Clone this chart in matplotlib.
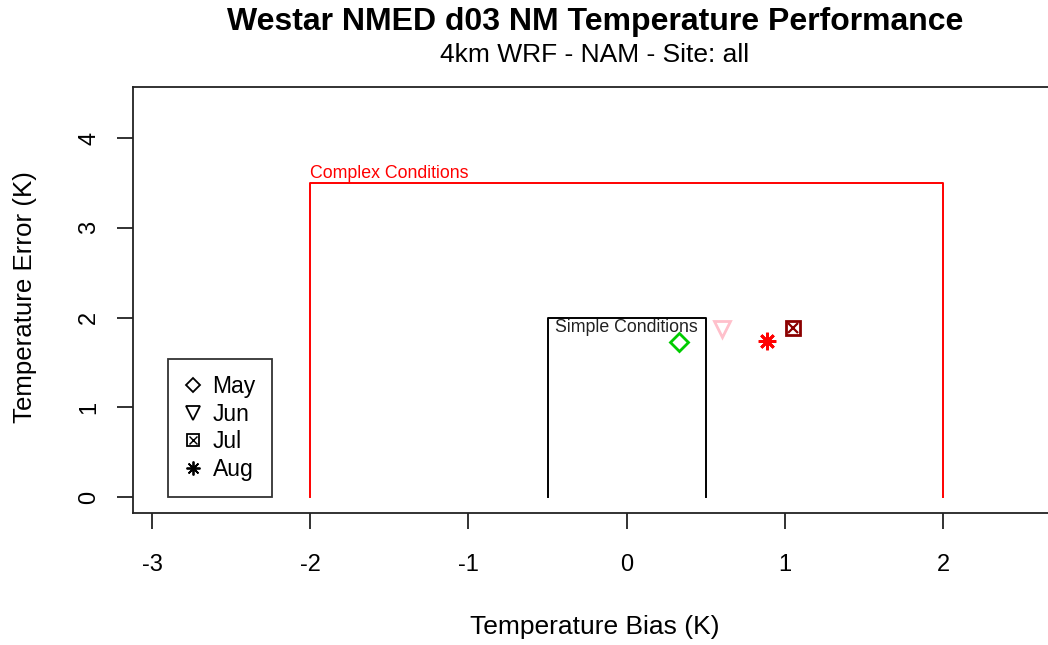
import matplotlib
matplotlib.use("Agg")
import matplotlib.pyplot as plt
from matplotlib.lines import Line2D

plt.rcParams['font.family'] = ['Liberation Sans', 'DejaVu Sans']

# monthly mean bias / error
MONTHS = ["May", "Jun", "Jul", "Aug"]
BIAS = [0.33, 0.60, 1.05, 0.89]
ERROR = [1.73, 1.87, 1.88, 1.74]
COLORS = ["#00CC00", "#FFC0CB", "#8B0000", "#FF0000"]

# benchmark boxes: (bias half-width, error limit)
SIMPLE = (0.5, 2.0)
COMPLEX = (2.0, 3.5)

XTICKS = [-3, -2, -1, 0, 1, 2]
YTICKS = [0, 1, 2, 3, 4]

W, H = 1048, 645
fig = plt.figure(figsize=(W / 100, H / 100), dpi=100)
ax = fig.add_axes([133 / W, (H - 513) / H, 924 / W, 426 / H])

ax.set_xlim(-3.12, 2.72)
ax.set_ylim(-0.178, 4.568)

# benchmark boxes, open at the bottom
for (hw, top), col in [(SIMPLE, "black"), (COMPLEX, "red")]:
    ax.plot([-hw, -hw, hw, hw], [0, top, top, 0], color=col, lw=1.4)
ax.text(0, SIMPLE[1] - 0.02, "Simple Conditions", ha="center", va="top",
        fontsize=12.8, color="#222222")
ax.text(-COMPLEX[0], COMPLEX[1] + 0.01, "Complex Conditions", ha="left",
        va="bottom", fontsize=12.8, color="red")


def month_marker(i, color, size, lw):
    if i == 0:
        return [dict(marker="D", markerfacecolor="none", markeredgecolor=color,
                     markersize=size * 0.75, markeredgewidth=lw)]
    if i == 1:
        return [dict(marker="v", markerfacecolor="none", markeredgecolor=color,
                     markersize=size, markeredgewidth=lw)]
    if i == 2:
        return [dict(marker="s", markerfacecolor="none", markeredgecolor=color,
                     markersize=size * 0.85, markeredgewidth=lw),
                dict(marker="x", markeredgecolor=color,
                     markersize=size * 0.6, markeredgewidth=lw * 0.8)]
    return [dict(marker=(8, 2, 0), markeredgecolor=color,
                 markersize=size * 1.05, markeredgewidth=lw)]


for i, (bx, ey, c) in enumerate(zip(BIAS, ERROR, COLORS)):
    for kw in month_marker(i, c, 12, 2.0):
        ax.plot([bx], [ey], linestyle="none", **kw)

handles = []
for i in range(len(MONTHS)):
    parts = [Line2D([], [], linestyle="none", **kw)
             for kw in month_marker(i, "black", 9.5, 1.3)]
    handles.append(tuple(parts) if len(parts) > 1 else parts[0])

leg = ax.legend(handles, MONTHS, loc="lower left",
                bbox_to_anchor=(-2.9, 0.0), bbox_transform=ax.transData,
                fontsize=16.5, frameon=True, fancybox=False, handlelength=0.8,
                handletextpad=0.45, labelspacing=0.2, borderpad=0.7,
                borderaxespad=0.0)
leg.get_frame().set_edgecolor("black")
leg.get_frame().set_linewidth(1.3)

for side in ["top", "left", "bottom"]:
    ax.spines[side].set_linewidth(1.3)
    ax.spines[side].set_color("#222222")
ax.spines["right"].set_visible(False)

ax.set_xticks(XTICKS)
ax.set_xticklabels([str(t) for t in XTICKS])
ax.set_yticks(YTICKS)
ax.set_yticklabels([str(t) for t in YTICKS], rotation=90, va="center")
ax.tick_params(length=11.5, width=1.3, labelsize=17, color="#222222")
ax.tick_params(axis="x", pad=18)
ax.tick_params(axis="y", pad=12)

fig.text(595 / W, 1 - 22 / H, "Westar NMED d03 NM Temperature Performance",
         ha="center", va="center", fontsize=23, fontweight="bold")
fig.text(595 / W, 1 - 55 / H, "4km WRF - NAM - Site: all",
         ha="center", va="center", fontsize=19)
fig.text(595 / W, 1 - 627 / H, "Temperature Bias (K)",
         ha="center", va="center", fontsize=19)
fig.text(25 / W, 1 - 297 / H, "Temperature Error (K)",
         ha="center", va="center", fontsize=18.6, rotation=90)

fig.savefig("out.png", dpi=100)
